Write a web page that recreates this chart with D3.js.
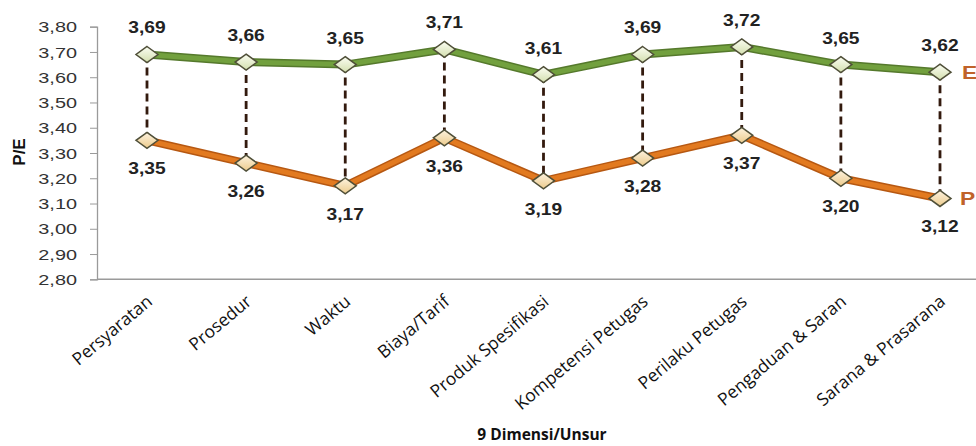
<!DOCTYPE html>
<html><head><meta charset="utf-8">
<script src="https://cdn.jsdelivr.net/npm/d3@7"></script>
<style>body{margin:0;background:#fff}svg{display:block}</style>
</head><body><svg id="c" width="976" height="446"></svg>
<script>
const categories = ["Persyaratan","Prosedur","Waktu","Biaya/Tarif","Produk Spesifikasi","Kompetensi Petugas","Perilaku Petugas","Pengaduan & Saran","Sarana & Prasarana"];
const seriesE = [3.69,3.66,3.65,3.71,3.61,3.69,3.72,3.65,3.62];
const seriesP = [3.35,3.26,3.17,3.36,3.19,3.28,3.37,3.20,3.12];
const yTicks = [2.8,2.9,3.0,3.1,3.2,3.3,3.4,3.5,3.6,3.7,3.8];
const yTitle = "P/E";
const xTitle = "9 Dimensi/Unsur";
const seriesNames = ["E","P"];

const svg = d3.select("#c");
const fmt = v => d3.format(".2f")(v).replace(".", ",");
const x = d3.scalePoint().domain(categories).range([147, 940]);
const y = d3.scaleLinear().domain([2.8, 3.8]).range([279.3, 26.7]);

const defs = svg.append("defs");
function grad(id, c1, c2){
  const g = defs.append("linearGradient").attr("id", id).attr("x1","0").attr("y1","0").attr("x2","0").attr("y2","1");
  g.append("stop").attr("offset","0%").attr("stop-color", c1);
  g.append("stop").attr("offset","100%").attr("stop-color", c2);
}
grad("gE", "#fbfdf2", "#d3dfae");
grad("gP", "#fdf3df", "#eccb8c");

// Y axis
const yAxis = svg.append("g").attr("transform","translate(97,0)")
  .call(d3.axisLeft(y).tickValues(yTicks).tickFormat(fmt).tickSize(7).tickPadding(5));
yAxis.select(".domain").attr("stroke","#9a9a9a").attr("stroke-width",1.3);
yAxis.selectAll(".tick line").attr("stroke","#9a9a9a");
yAxis.selectAll(".tick text").attr("x",0).attr("dy","0.36em")
  .attr("font-family","Liberation Sans, Arial, sans-serif").attr("font-size",14).attr("fill","#333")
  .attr("transform","translate(-20,0) scale(1.42,1)");

// X axis
const xAxis = svg.append("g").attr("transform","translate(0,279.3)")
  .call(d3.axisBottom(x).tickSize(0).tickPadding(0));
xAxis.select(".domain").attr("d","M97,0H976").attr("stroke","#9a9a9a").attr("stroke-width",1.5);
xAxis.selectAll(".tick text")
  .attr("font-family","Open Sans, sans-serif").attr("font-size",17.5).attr("fill","#111")
  .attr("text-anchor","end").attr("dy",0).attr("y",0)
  .attr("transform","translate(6,24) rotate(-40)");

// Titles
svg.append("text").attr("transform","translate(25,152) rotate(-90)").attr("text-anchor","middle")
  .attr("font-family","Liberation Sans, Arial, sans-serif").attr("font-weight","bold").attr("font-size",17).attr("fill","#111").text(yTitle);
svg.append("text").attr("x",542).attr("y",440).attr("text-anchor","middle")
  .attr("font-family","Open Sans, sans-serif").attr("font-weight","bold").attr("font-size",15.5).attr("fill","#111").text(xTitle);

// Drop lines
svg.append("g").selectAll("line").data(categories).join("line")
  .attr("x1", d => x(d)).attr("x2", d => x(d))
  .attr("y1", (d,i) => y(seriesE[i])).attr("y2", (d,i) => y(seriesP[i]))
  .attr("stroke","#331a0e").attr("stroke-width",2.8).attr("stroke-dasharray","8,5");

const line = d3.line().x((d,i) => x(categories[i])).y(d => y(d));
function drawSeries(vals, dark, light, g){
  svg.append("path").datum(vals).attr("d", line).attr("fill","none").attr("stroke",dark).attr("stroke-width",8).attr("stroke-linejoin","round");
  svg.append("path").datum(vals).attr("d", line).attr("fill","none").attr("stroke",light).attr("stroke-width",5).attr("stroke-linejoin","round");
  svg.append("g").selectAll("path").data(vals).join("path")
    .attr("d","M0,-8L11,0L0,8L-11,0Z")
    .attr("transform",(d,i) => `translate(${x(categories[i])},${y(d)})`)
    .attr("fill",`url(#${g})`).attr("stroke","#4f4f38").attr("stroke-width",1.5);
}
drawSeries(seriesE, "#55792c", "#72a03e", "gE");
drawSeries(seriesP, "#b65812", "#e27a20", "gP");

// Data labels
function labels(vals, dy){
  svg.append("g").selectAll("text").data(vals).join("text")
    .attr("transform",(d,i) => `translate(${x(categories[i])},${y(d) + dy}) scale(1.2,1)`)
    .attr("font-family","Liberation Sans, Arial, sans-serif").attr("font-weight","bold")
    .attr("font-size",16).attr("fill","#222").attr("text-anchor","middle").text(fmt);
}
labels(seriesE, -21);
labels(seriesP, 34);

// Series end labels
svg.append("text").attr("transform",`translate(962,${y(seriesE[8])+7}) scale(1.2,1)`).attr("font-family","Liberation Sans, Arial, sans-serif")
  .attr("font-weight","bold").attr("font-size",19).attr("fill","#c0622a").text(seriesNames[0]);
svg.append("text").attr("transform",`translate(960,${y(seriesP[8])+7}) scale(1.2,1)`).attr("font-family","Liberation Sans, Arial, sans-serif")
  .attr("font-weight","bold").attr("font-size",19).attr("fill","#c0622a").text(seriesNames[1]);
</script></body></html>
